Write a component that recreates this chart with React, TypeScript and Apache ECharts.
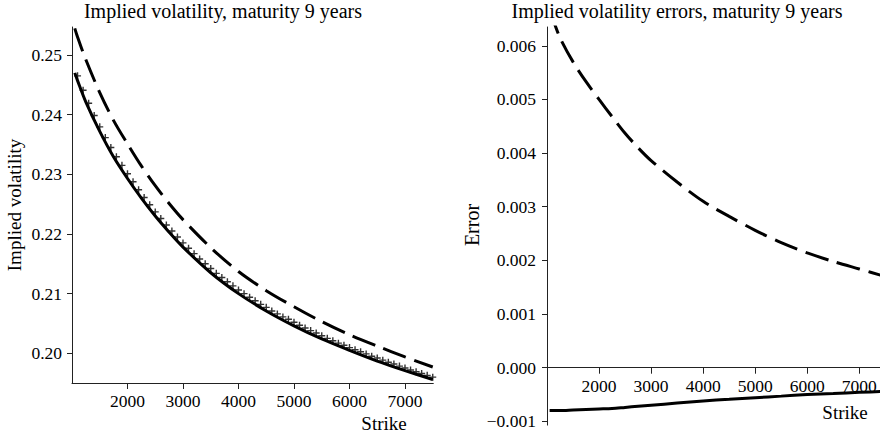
import React, { useEffect, useRef } from "react";
import * as echarts from "echarts";

const lineStrikes = [1050, 1100, 1250, 1500, 1750, 2000, 2250, 2500, 2750, 3000, 3500, 4000, 4500, 5000, 5500, 6000, 6500, 7000, 7500];
const volSolid = [0.2470, 0.2457, 0.2421, 0.2372, 0.2329, 0.2293, 0.2260, 0.2230, 0.2203, 0.2178, 0.2135, 0.2100, 0.2071, 0.2046, 0.2024, 0.2005, 0.1987, 0.1971, 0.1956];
const volDashed = [0.25445, 0.2530, 0.2492, 0.2437, 0.2390, 0.2351, 0.2314, 0.2281, 0.2251, 0.2224, 0.2177, 0.2137, 0.2105, 0.2078, 0.2053, 0.2031, 0.2012, 0.1994, 0.1977];
const errSolid = [-0.00080, -0.00080, -0.00080, -0.00079, -0.00078, -0.00077, -0.00076, -0.00074, -0.00072, -0.00070, -0.00066, -0.00062, -0.00059, -0.00056, -0.00053, -0.00050, -0.00048, -0.00046, -0.00044];
const errDashed = [0.00665, 0.00653, 0.00615, 0.00570, 0.00533, 0.00500, 0.00468, 0.00437, 0.00410, 0.00386, 0.00346, 0.00310, 0.00282, 0.00256, 0.00233, 0.00214, 0.00198, 0.00184, 0.00170];

const crossStrikes = [
  1100, 1200, 1300, 1400, 1500, 1600, 1700, 1800, 1900, 2000,
  2100, 2200, 2300, 2400, 2500, 2600, 2700, 2800, 2900, 3000,
  3100, 3200, 3300, 3400, 3500, 3600, 3700, 3800, 3900, 4000,
  4100, 4200, 4300, 4400, 4500, 4600, 4700, 4800, 4900, 5000,
  5100, 5200, 5300, 5400, 5500, 5600, 5700, 5800, 5900, 6000,
  6100, 6200, 6300, 6400, 6500, 6600, 6700, 6800, 6900, 7000,
  7100, 7200, 7300, 7400, 7500,
];
const crossVols = [
  0.2465, 0.2441, 0.2419, 0.23985, 0.23795, 0.23615, 0.2345, 0.23295, 0.2315, 0.2301,
  0.22875, 0.2274, 0.2261, 0.2249, 0.2237, 0.2226, 0.2215, 0.2205, 0.2195, 0.2185,
  0.2176, 0.2167, 0.2158, 0.2150, 0.2142, 0.2134, 0.2127, 0.2120, 0.2113, 0.2106,
  0.2100, 0.2094, 0.2088, 0.2082, 0.2077, 0.2071, 0.2066, 0.2061, 0.2057, 0.2052,
  0.2047, 0.20425, 0.2038, 0.2034, 0.20295, 0.2025, 0.2021, 0.2017, 0.20135, 0.20095,
  0.2006, 0.20025, 0.1999, 0.1995, 0.1992, 0.19885, 0.1985, 0.1982, 0.19785, 0.19753,
  0.1972, 0.1969, 0.1966, 0.1963, 0.1960,
];

const strikeTicks = [2000, 3000, 4000, 5000, 6000, 7000];
const volTicks = [0.2, 0.21, 0.22, 0.23, 0.24, 0.25];
const errTicks = [-0.001, 0, 0.001, 0.002, 0.003, 0.004, 0.005, 0.006];

const leftTitle = "Implied volatility, maturity 9 years";
const rightTitle = "Implied volatility errors, maturity 9 years";
const xName = "Strike";
const leftYName = "Implied volatility";
const rightYName = "Error";

const FONT = '"Liberation Serif", "Times New Roman", Times, serif';
const AXIS_COLOR = "#222";
const PLUS = "path://M2.8,0H4.2V2.8H7V4.2H4.2V7H2.8V4.2H0V2.8H2.8Z";

// right panel geometry
const R_TOP = 27;
const R_BOTTOM_PX = 425.1;
const ERR_MIN = -0.00107;
const ERR_MAX = 0.00635;

const pairs = (xs: number[], ys: number[]) => xs.map((x, i) => [x, ys[i]]);

function textEl(text: string, x: number, y: number, size: number, rotation = 0) {
  return {
    type: "text",
    x,
    y,
    rotation,
    silent: true,
    style: {
      text,
      fill: "#000",
      fontSize: size,
      fontFamily: FONT,
      align: "center",
      verticalAlign: "middle",
      textAlign: "center",
      textVerticalAlign: "middle",
    },
  };
}

export default function App() {
  const ref = useRef<HTMLDivElement>(null);
  useEffect(() => {
    if (!ref.current) return;
    const chart = echarts.init(ref.current, undefined, { renderer: "svg" });

    const axisCommon = {
      axisLine: { show: true, onZero: false, lineStyle: { color: AXIS_COLOR, width: 1 } },
      splitLine: { show: false },
    };
    const labelCommon = { color: "#000", fontSize: 17.5, fontFamily: FONT };

    const zeroPx = R_TOP + (ERR_MAX / (ERR_MAX - ERR_MIN)) * (R_BOTTOM_PX - R_TOP);
    const zeroOffset = zeroPx - R_BOTTOM_PX; // negative: move the axis up to y = 0

    const option: any = {
      animation: false,
      backgroundColor: "#fff",
      grid: [
        { left: 72, top: 27, right: 446.7, bottom: 52, containLabel: false, outerBoundsMode: "none" },
        { left: 547, top: R_TOP, right: -5.3, bottom: 435 - R_BOTTOM_PX, containLabel: false, outerBoundsMode: "none" },
      ],
      xAxis: [
        {
          type: "value",
          gridIndex: 0,
          min: 1000,
          max: 7510,
          ...axisCommon,
          axisTick: { show: true, length: 6, customValues: strikeTicks, lineStyle: { color: AXIS_COLOR } },
          axisLabel: { ...labelCommon, margin: 9, customValues: strikeTicks, formatter: (v: number) => String(v) },
        },
        {
          type: "value",
          gridIndex: 1,
          min: 1000,
          max: 7500,
          position: "bottom",
          offset: zeroOffset,
          ...axisCommon,
          axisTick: { show: true, length: 6, customValues: strikeTicks, lineStyle: { color: AXIS_COLOR } },
          axisLabel: { ...labelCommon, margin: 9, customValues: strikeTicks, formatter: (v: number) => String(v) },
        },
      ],
      yAxis: [
        {
          type: "value",
          gridIndex: 0,
          min: 0.19502,
          max: 0.25469,
          ...axisCommon,
          axisTick: { show: true, length: 5, customValues: volTicks, lineStyle: { color: AXIS_COLOR } },
          axisLabel: { ...labelCommon, margin: 10, customValues: volTicks, formatter: (v: number) => v.toFixed(2) },
        },
        {
          type: "value",
          gridIndex: 1,
          min: ERR_MIN,
          max: ERR_MAX,
          ...axisCommon,
          axisTick: { show: true, length: 5, customValues: errTicks, lineStyle: { color: AXIS_COLOR } },
          axisLabel: {
            ...labelCommon,
            margin: 11,
            customValues: errTicks,
            formatter: (v: number) => (v < -1e-9 ? "\u2212" + (-v).toFixed(3) : Math.abs(v).toFixed(3)),
          },
        },
      ],
      series: [
        {
          type: "line",
          xAxisIndex: 0,
          yAxisIndex: 0,
          data: pairs(lineStrikes, volSolid),
          showSymbol: false,
          symbol: "none",
          smooth: 0.3,
          lineStyle: { color: "#000", width: 3 },
          z: 3,
        },
        {
          type: "line",
          xAxisIndex: 0,
          yAxisIndex: 0,
          data: pairs(lineStrikes, volDashed),
          showSymbol: false,
          symbol: "none",
          smooth: 0.3,
          lineStyle: { color: "#000", width: 3, type: [24, 9], cap: "butt" },
          z: 3,
        },
        {
          type: "scatter",
          xAxisIndex: 0,
          yAxisIndex: 0,
          data: pairs(crossStrikes, crossVols),
          symbol: PLUS,
          symbolSize: 7,
          itemStyle: { color: "#000" },
          z: 4,
        },
        {
          type: "line",
          xAxisIndex: 1,
          yAxisIndex: 1,
          data: pairs(lineStrikes, errSolid),
          showSymbol: false,
          symbol: "none",
          smooth: 0.3,
          lineStyle: { color: "#000", width: 3 },
          z: 3,
        },
        {
          type: "line",
          xAxisIndex: 1,
          yAxisIndex: 1,
          data: pairs(lineStrikes, errDashed),
          showSymbol: false,
          symbol: "none",
          smooth: 0.3,
          lineStyle: { color: "#000", width: 3, type: [24, 9], cap: "butt" },
          z: 3,
        },
      ],
      graphic: [
        textEl(leftTitle, 223, 11, 20),
        textEl(rightTitle, 677, 11, 20),
        textEl(xName, 384, 423.5, 19),
        textEl(xName, 845, 412, 19),
        textEl(leftYName, 14, 205, 19, Math.PI / 2),
        textEl(rightYName, 472, 225, 20, Math.PI / 2),
      ],
    };
    chart.setOption(option);
    return () => chart.dispose();
  }, []);

  return (
    <div
      ref={ref}
      style={{ position: "fixed", left: 0, top: 0, width: 880, height: 435, background: "#fff" }}
    />
  );
}
